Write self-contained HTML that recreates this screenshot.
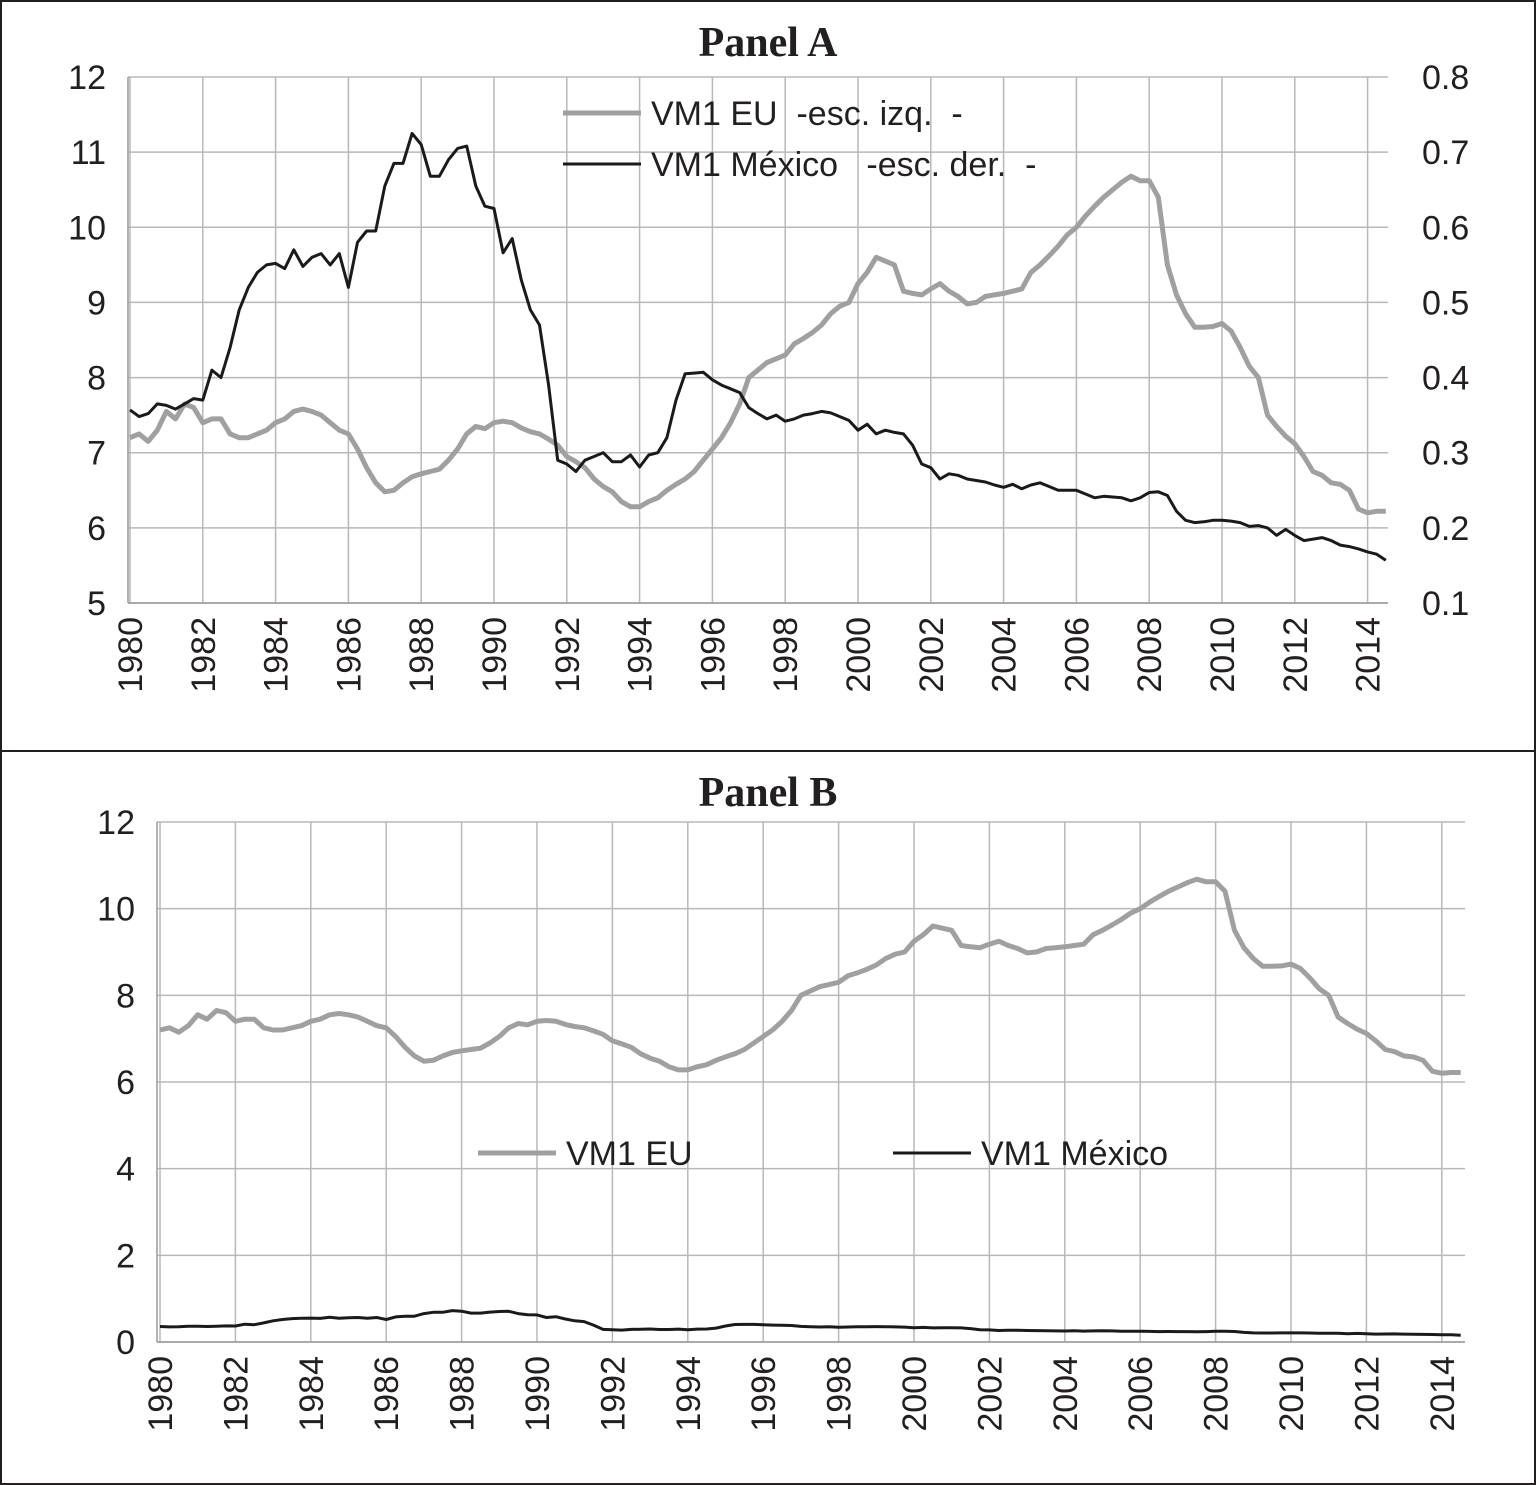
<!DOCTYPE html>
<html><head><meta charset="utf-8"><style>
body{margin:0;background:#fff}
svg{display:block}
text{font-family:"Liberation Sans",sans-serif;fill:#231f20}
.t{font-family:"Liberation Serif",serif;font-weight:bold;font-size:42px}
.tk{font-size:34px}
</style></head><body>
<svg id="c" width="1536" height="1485" viewBox="0 0 1536 1485" xmlns="http://www.w3.org/2000/svg">
<rect x="1" y="1" width="1534" height="1483" fill="#fff" stroke="#231f20" stroke-width="2"/>
<line x1="0" y1="751" x2="1536" y2="751" stroke="#231f20" stroke-width="2"/>
<text class="t" x="768" y="56" text-anchor="middle">Panel A</text>
<text class="t" x="768" y="806" text-anchor="middle">Panel B</text>
<g id="A"></g>
<g id="B"></g>
</svg>
<script>
const startYear = 1980;
const xTickYears = [1980,1982,1984,1986,1988,1990,1992,1994,1996,1998,2000,2002,2004,2006,2008,2010,2012,2014];
const leftTicksA = [5,6,7,8,9,10,11,12];
const rightTicksA = ["0.1","0.2","0.3","0.4","0.5","0.6","0.7","0.8"];
const leftTicksB = [0,2,4,6,8,10,12];
const vm1EU = [7.2,7.25,7.15,7.3,7.55,7.45,7.65,7.6,7.4,7.45,7.45,7.25,7.2,7.2,7.25,7.3,7.4,7.45,7.55,7.58,7.55,7.5,7.4,7.3,7.25,7.05,6.8,6.6,6.48,6.5,6.6,6.68,6.72,6.75,6.78,6.9,7.05,7.25,7.35,7.32,7.4,7.42,7.4,7.33,7.28,7.25,7.18,7.1,6.95,6.88,6.8,6.65,6.55,6.48,6.35,6.28,6.28,6.35,6.4,6.5,6.58,6.65,6.75,6.9,7.05,7.2,7.4,7.65,8.0,8.1,8.2,8.25,8.3,8.45,8.52,8.6,8.7,8.85,8.95,9.0,9.25,9.4,9.6,9.55,9.5,9.15,9.12,9.1,9.18,9.25,9.15,9.08,8.98,9.0,9.08,9.1,9.12,9.15,9.18,9.4,9.5,9.62,9.75,9.9,10.0,10.15,10.28,10.4,10.5,10.6,10.68,10.62,10.62,10.4,9.5,9.1,8.85,8.67,8.67,8.68,8.72,8.62,8.4,8.15,8.0,7.5,7.35,7.22,7.12,6.95,6.75,6.7,6.6,6.58,6.5,6.25,6.2,6.22,6.22];
const vm1MX = [0.357,0.348,0.352,0.365,0.363,0.358,0.365,0.372,0.37,0.41,0.40,0.44,0.49,0.52,0.54,0.55,0.552,0.545,0.57,0.548,0.56,0.565,0.55,0.565,0.52,0.58,0.595,0.595,0.655,0.685,0.685,0.725,0.71,0.668,0.668,0.69,0.705,0.708,0.655,0.628,0.625,0.566,0.585,0.53,0.49,0.47,0.39,0.29,0.285,0.275,0.29,0.295,0.3,0.288,0.288,0.297,0.281,0.297,0.3,0.32,0.37,0.405,0.406,0.407,0.397,0.39,0.385,0.38,0.36,0.352,0.345,0.35,0.342,0.345,0.35,0.352,0.355,0.353,0.348,0.343,0.33,0.338,0.325,0.33,0.327,0.325,0.31,0.285,0.28,0.265,0.272,0.27,0.265,0.263,0.261,0.257,0.254,0.258,0.252,0.257,0.26,0.255,0.25,0.25,0.25,0.245,0.24,0.242,0.241,0.24,0.236,0.24,0.247,0.248,0.243,0.222,0.21,0.207,0.208,0.21,0.21,0.209,0.207,0.202,0.203,0.2,0.19,0.198,0.19,0.183,0.185,0.187,0.183,0.177,0.175,0.172,0.168,0.165,0.157];

const NS="http://www.w3.org/2000/svg";
function mk(parent,tag,attrs){const e=document.createElementNS(NS,tag);for(const k in attrs)e.setAttribute(k,attrs[k]);parent.appendChild(e);return e;}

function panel(g,cfg){
  const xs=y=>cfg.x0+(y-startYear)*cfg.pxYear;
  const yl=v=>cfg.yTop+(cfg.lMax-v)/(cfg.lMax-cfg.lMin)*(cfg.yBot-cfg.yTop);
  cfg.lTicks.forEach(v=>{
    const l=mk(g,'line',{x1:cfg.px0,x2:cfg.px1,y1:yl(v),y2:yl(v),stroke:'#b8b8b8','stroke-width':1.5});
    
    
    const t=mk(g,'text',{x:cfg.px0-22,y:yl(v)+12,'text-anchor':'end',class:'tk'});
    t.textContent=v;
    
    
  });
  xTickYears.forEach(y=>{
    const l=mk(g,'line',{x1:xs(y),x2:xs(y),y1:cfg.yTop,y2:cfg.yBot,stroke:'#b8b8b8','stroke-width':1.5});
    
    
    const t=mk(g,'text',{transform:`translate(${xs(y)+12},${cfg.yBot+14}) rotate(-90)`,'text-anchor':'end',class:'tk'});
    t.textContent=y;
    
    
  });
  const ax=mk(g,'line',{x1:cfg.px0,x2:cfg.px0,y1:cfg.yTop,y2:cfg.yBot,stroke:'#999','stroke-width':1.5});
  
  
  const ax2=mk(g,'line',{x1:cfg.px0,x2:cfg.px1,y1:cfg.yBot,y2:cfg.yBot,stroke:'#999','stroke-width':1.5});
  
  
  if(cfg.rTicks){
    cfg.rTicks.forEach((s,i)=>{
      const v=parseFloat(s);
      const y=cfg.yTop+(cfg.rMax-v)/(cfg.rMax-cfg.rMin)*(cfg.yBot-cfg.yTop);
      const t=mk(g,'text',{x:cfg.px1+34,y:y+12,class:'tk'});
      t.textContent=s;
      
      
    });
  }
  const yr=v=>cfg.yTop+(cfg.rMax-v)/(cfg.rMax-cfg.rMin)*(cfg.yBot-cfg.yTop);
  const eu=vm1EU.map((v,i)=>xs(startYear+i/4).toFixed(1)+','+yl(v).toFixed(1)).join(' ');
  const p1=mk(g,'polyline',{points:eu,fill:'none',stroke:'#a0a0a0','stroke-width':5,'stroke-linejoin':'round'});
  
  
  const mf=cfg.rTicks?yr:yl;
  const mx=vm1MX.map((v,i)=>xs(startYear+i/4).toFixed(1)+','+mf(v).toFixed(1)).join(' ');
  const p2=mk(g,'polyline',{points:mx,fill:'none',stroke:'#1a1a1a','stroke-width':3,'stroke-linejoin':'round'});
  
  
  cfg.legend.forEach(L=>{
    const l=mk(g,'line',{x1:L.x,x2:L.x+78,y1:L.y,y2:L.y,stroke:L.c,'stroke-width':L.w});
    
    
    const t=mk(g,'text',{x:L.x+88,y:L.y+12,class:'tk'});
    t.setAttribute('style','white-space:pre');
    t.textContent=L.t;
    
    
  });
}
panel(document.getElementById('A'),{x0:130,pxYear:36.4,px0:128,px1:1388,yTop:77,yBot:603,lMin:5,lMax:12,rMin:0.1,rMax:0.8,lTicks:leftTicksA,rTicks:rightTicksA,
  legend:[{x:563,y:113,c:'#a0a0a0',w:5,t:'VM1 EU  -esc. izq.  -'},{x:563,y:164,c:'#1a1a1a',w:3,t:'VM1 México   -esc. der.  -'}]});
panel(document.getElementById('B'),{x0:160,pxYear:37.7,px0:157,px1:1465,yTop:822,yBot:1342,lMin:0,lMax:12,lTicks:leftTicksB,rTicks:null,
  legend:[{x:478,y:1153,c:'#a0a0a0',w:5,t:'VM1 EU'},{x:893,y:1153,c:'#1a1a1a',w:3,t:'VM1 México'}]});
</script>
</body></html>
